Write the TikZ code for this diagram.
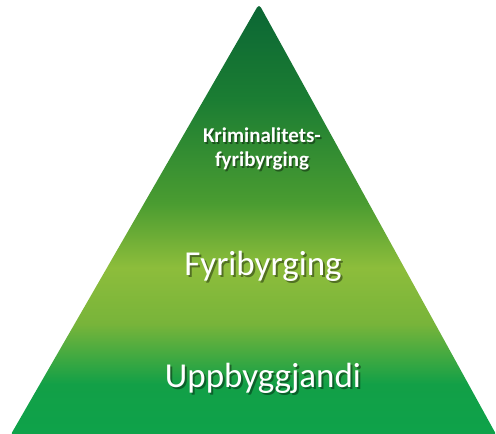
\documentclass[tikz,border=0pt]{standalone}
\usepackage{fontspec}
\setmainfont{Carlito}
\definecolor{gA}{HTML}{0B6634}
\definecolor{gB}{HTML}{1B7D33}
\definecolor{gC}{HTML}{4A9C31}
\definecolor{gD}{HTML}{8DBD3B}
\definecolor{gE}{HTML}{78B43A}
\definecolor{gF}{HTML}{12A047}
\definecolor{gG}{HTML}{0EA24A}
% positions: pos = 75 - 50*(y-5)/429
\pgfdeclareverticalshading{pyr}{100bp}{%
  color(0bp)=(gG); color(25bp)=(gG); color(31bp)=(gF); color(38bp)=(gE);
  color(44.5bp)=(gD); color(52bp)=(gC); color(64bp)=(gB); color(75bp)=(gA); color(100bp)=(gA)}
\tikzset{
  lbl/.style={text=white, align=center, inner sep=0pt},
  shd/.style={text=black, opacity=0.4, align=center, inner sep=0pt},
  small/.style={font=\bfseries\fontsize{21}{24}\selectfont},
  big/.style={font=\fontsize{35}{40}\selectfont}
}
\begin{document}
\begin{tikzpicture}[x=1pt,y=-1pt]
\useasboundingbox (0,0) rectangle (496,434);
\shade[shading=pyr, rounded corners=4pt] (259,4) -- (497,436) -- (10,436) -- cycle;
\node[shd, small] (ks) at (263.5,150.5) {Kriminalitets-\\fyribyrging};
\node[shd, big] (fs) at (265,268) {Fyribyrging};
\node[shd, big] (us) at (265,380) {Uppbyggjandi};
\node[lbl, small] (k) at (262,149) {Kriminalitets-\\fyribyrging};
\node[lbl, big] (f) at (263,266) {Fyribyrging};
\node[lbl, big] (u) at (263,378) {Uppbyggjandi};
\end{tikzpicture}
\end{document}
